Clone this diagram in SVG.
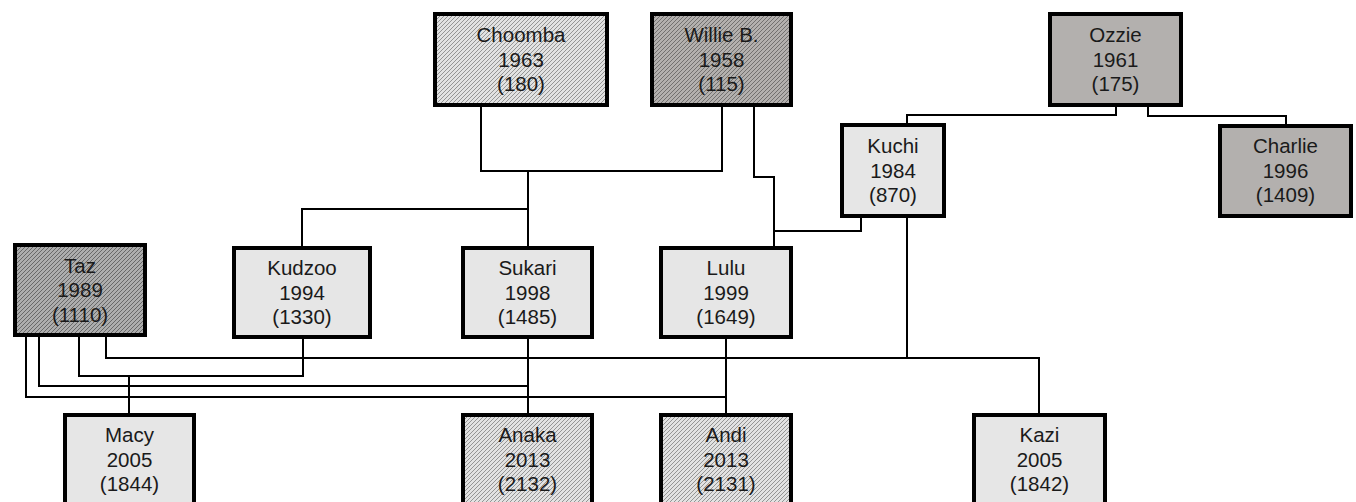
<svg xmlns="http://www.w3.org/2000/svg" width="1356" height="502" viewBox="0 0 1356 502">
<defs>
<pattern id="hLight" patternUnits="userSpaceOnUse" width="4" height="4">
<rect width="4" height="4" fill="#e2e2e2"/>
<path d="M-1,1 l2,-2 M0,4 l4,-4 M3,5 l2,-2" stroke="#949494" stroke-width="1"/>
</pattern>
<pattern id="hMid" patternUnits="userSpaceOnUse" width="4" height="4">
<rect width="4" height="4" fill="#b3b0ae"/>
<path d="M-1,1 l2,-2 M0,4 l4,-4 M3,5 l2,-2" stroke="#72706f" stroke-width="1"/>
</pattern>
<pattern id="hDark" patternUnits="userSpaceOnUse" width="4" height="4">
<rect width="4" height="4" fill="#adadad"/>
<path d="M-1,1 l2,-2 M0,4 l4,-4 M3,5 l2,-2" stroke="#686868" stroke-width="1"/>
</pattern>
</defs>
<style>
.box{stroke:#000;stroke-width:4}
.plain{fill:#e6e6e6}
.grey{fill:#b3b0ae}
.hl{fill:url(#hLight)}
.hm{fill:url(#hMid)}
.hd{fill:url(#hDark)}
text{font-family:"Liberation Sans",Arial,sans-serif;font-size:20.5px;fill:#1a1a1a;text-anchor:middle}
.conn path{fill:none;stroke:#000;stroke-width:2}
</style>
<rect width="1356" height="502" fill="#fff"/>
<g class="conn">
<path d="M481,107 V171 H722 V107"/>
<path d="M528,171 V246"/>
<path d="M528,209 H302 V246"/>
<path d="M754,107 V177 H774 V246"/>
<path d="M861,218 V231 H774"/>
<path d="M1116,107 V115 H907 V123"/>
<path d="M1148,107 V116 H1286 V124"/>
<path d="M907,218 V358 H1039 V413"/>
<path d="M106,337 V358 H907"/>
<path d="M79,337 V376 H303 V339"/>
<path d="M129,376 V413"/>
<path d="M39,337 V386 H528"/>
<path d="M528,339 V413"/>
<path d="M26,337 V397 H726"/>
<path d="M726,339 V413"/>
</g>
<g id="choomba"><rect class="box hl" x="435" y="14" width="172" height="91"/><text x="521" y="42">Choomba</text><text x="521" y="66.5">1963</text><text x="521" y="91">(180)</text></g>
<g id="willie"><rect class="box hm" x="652" y="14" width="139" height="91"/><text x="721.5" y="42">Willie B.</text><text x="721.5" y="66.5">1958</text><text x="721.5" y="91">(115)</text></g>
<g id="ozzie"><rect class="box grey" x="1050" y="14" width="131" height="91"/><text x="1115.5" y="42">Ozzie</text><text x="1115.5" y="66.5">1961</text><text x="1115.5" y="91">(175)</text></g>
<g id="kuchi"><rect class="box plain" x="842" y="125" width="102" height="91"/><text x="893" y="153">Kuchi</text><text x="893" y="177.5">1984</text><text x="893" y="202">(870)</text></g>
<g id="charlie"><rect class="box grey" x="1220" y="126" width="131" height="90"/><text x="1285.5" y="153">Charlie</text><text x="1285.5" y="177.5">1996</text><text x="1285.5" y="202">(1409)</text></g>
<g id="taz"><rect class="box hd" x="15" y="245" width="130" height="90"/><text x="80" y="272.5">Taz</text><text x="80" y="297">1989</text><text x="80" y="321.5">(1110)</text></g>
<g id="kudzoo"><rect class="box plain" x="234" y="248" width="136" height="89"/><text x="302" y="275">Kudzoo</text><text x="302" y="299.5">1994</text><text x="302" y="324">(1330)</text></g>
<g id="sukari"><rect class="box plain" x="463" y="248" width="129" height="89"/><text x="527.5" y="275">Sukari</text><text x="527.5" y="299.5">1998</text><text x="527.5" y="324">(1485)</text></g>
<g id="lulu"><rect class="box plain" x="661" y="248" width="130" height="89"/><text x="726" y="275">Lulu</text><text x="726" y="299.5">1999</text><text x="726" y="324">(1649)</text></g>
<g id="macy"><rect class="box plain" x="65" y="415" width="129" height="90"/><text x="129.5" y="442">Macy</text><text x="129.5" y="466.5">2005</text><text x="129.5" y="491">(1844)</text></g>
<g id="anaka"><rect class="box hl" x="463" y="415" width="129" height="90"/><text x="527.5" y="442">Anaka</text><text x="527.5" y="466.5">2013</text><text x="527.5" y="491">(2132)</text></g>
<g id="andi"><rect class="box hl" x="661" y="415" width="130" height="90"/><text x="726" y="442">Andi</text><text x="726" y="466.5">2013</text><text x="726" y="491">(2131)</text></g>
<g id="kazi"><rect class="box plain" x="974" y="415" width="131" height="90"/><text x="1039.5" y="442">Kazi</text><text x="1039.5" y="466.5">2005</text><text x="1039.5" y="491">(1842)</text></g>
</svg>
